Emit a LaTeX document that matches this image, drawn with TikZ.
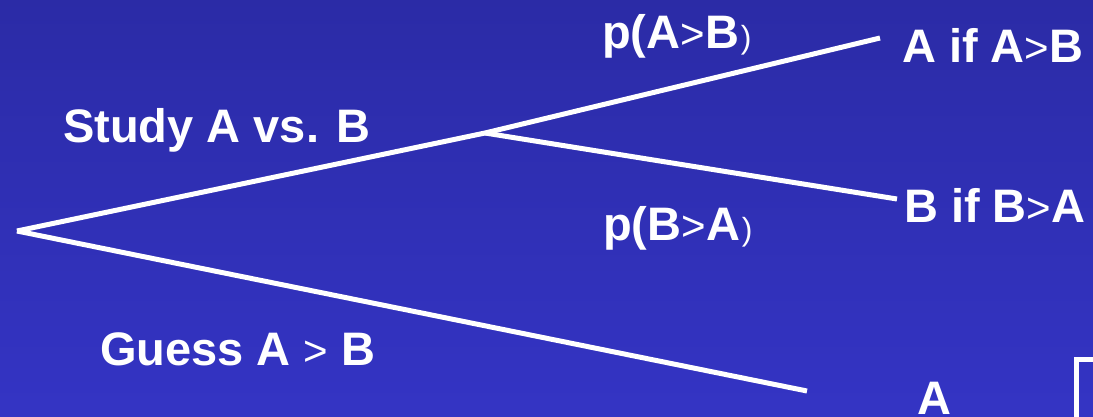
\documentclass[tikz,border=0pt]{standalone}
\usepackage{fontspec}
\setmainfont{Liberation Sans}
\definecolor{bgtop}{RGB}{43,43,166}
\definecolor{bgbot}{RGB}{52,52,196}
\newcommand{\sm}[1]{{\fontsize{42}{42}\selectfont\mdseries #1}}
\newcommand{\smp}{{\fontsize{32}{32}\selectfont\mdseries\kern2pt)}}
\begin{document}
\begin{tikzpicture}[x=1pt,y=-1pt,
  lbl/.style={anchor=base west,inner sep=0pt,text=white,font=\fontsize{47}{47}\selectfont\bfseries},
  branch/.style={draw=white,line width=5pt}]
\useasboundingbox (0,0) rectangle (1093,416);
\clip (0,0) rectangle (1093,416);
\shade[top color=bgtop,bottom color=bgbot] (0,0) rectangle (1093,416);
\coordinate (root) at (17,231);
\coordinate (j) at (485,133);
\coordinate (ea) at (880,38);
\coordinate (eb) at (897,199);
\coordinate (ec) at (807,391);
\draw[branch] (root) -- (j) -- (ea);
\draw[branch] (j) -- (eb);
\draw[branch] (root) -- (ec);
\node[lbl] (study) at (63,142) {Study A vs. B};
\node[lbl] (pab) at (602,48) {p(A\sm{>}B\smp};
\node[lbl] (pba) at (603,240) {p(B\sm{>}A\smp};
\node[lbl] (aif) at (902,62) {A if A\sm{>}B};
\node[lbl] (bif) at (904,222) {B if B\sm{>}A};
\node[lbl] (guess) at (100,365) {Guess A \sm{>} B};
\node[lbl] (abot) at (917,414) {A};
\draw[draw=white,line width=5pt] (1076.5,359.5) rectangle (1200,500);
\end{tikzpicture}
\end{document}
